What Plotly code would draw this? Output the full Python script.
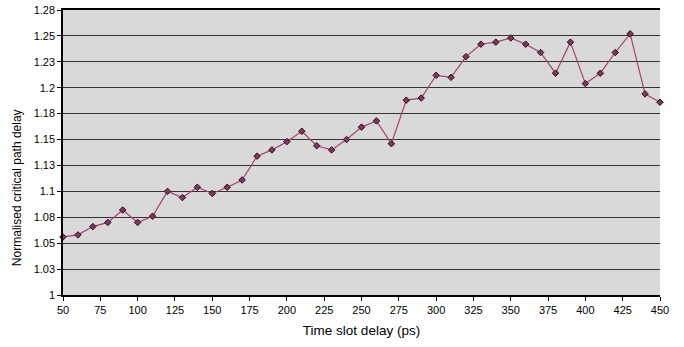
import plotly.graph_objects as go

# Time slot delay (ps) and normalised critical path delay
delay_ps = [50, 60, 70, 80, 90, 100, 110, 120, 130, 140, 150, 160, 170, 180, 190,
            200, 210, 220, 230, 240, 250, 260, 270, 280, 290, 300, 310, 320, 330,
            340, 350, 360, 370, 380, 390, 400, 410, 420, 430, 440, 450]
norm_delay = [1.056, 1.058, 1.066, 1.070, 1.082, 1.070, 1.076, 1.100, 1.094, 1.104,
              1.098, 1.104, 1.111, 1.134, 1.140, 1.148, 1.158, 1.144, 1.140, 1.150,
              1.162, 1.168, 1.146, 1.188, 1.190, 1.212, 1.210, 1.230, 1.242, 1.244,
              1.248, 1.242, 1.234, 1.214, 1.244, 1.204, 1.214, 1.234, 1.252, 1.194,
              1.186]

y_tickvals = [1.0, 1.025, 1.05, 1.075, 1.1, 1.125, 1.15, 1.175, 1.2, 1.225, 1.25, 1.275]
y_ticktext = ["1", "1.03", "1.05", "1.08", "1.1", "1.13", "1.15", "1.18", "1.2", "1.23", "1.25", "1.28"]
x_tickvals = [50, 75, 100, 125, 150, 175, 200, 225, 250, 275, 300, 325, 350, 375, 400, 425, 450]

fig = go.Figure()
fig.add_trace(go.Scatter(
    x=delay_ps, y=norm_delay, mode="lines+markers",
    line=dict(color="#A3446F", width=1.2),
    marker=dict(symbol="diamond", size=5, color="#8E2F5C",
                line=dict(color="#1a1a1a", width=1)),
    cliponaxis=False,
))

font = dict(family="Liberation Sans, Arial, sans-serif", color="#000000")

# y-axis title placed as a rotated annotation, sitting slightly below the axis middle
fig.add_annotation(
    text="Normalised critical path delay", textangle=-90,
    xref="paper", yref="paper", x=0, y=0.375,
    xanchor="center", yanchor="middle", xshift=-46,
    showarrow=False, font=dict(**font, size=12),
)

fig.update_layout(
    width=684, height=347,
    margin=dict(l=63, r=24, t=10, b=52),
    paper_bgcolor="white",
    plot_bgcolor="#D9D9D9",
    showlegend=False,
    font=dict(**font, size=11),
    xaxis=dict(
        range=[50, 450], tickvals=x_tickvals,
        showgrid=False, zeroline=False, automargin=False,
        showline=True, mirror=True, linecolor="#000000", linewidth=1.5,
        ticks="outside", ticklen=4, tickcolor="#000000",
        tickfont=dict(**font, size=11),
        title=dict(text="Time slot delay (ps)", font=dict(**font, size=13.5), standoff=11),
    ),
    yaxis=dict(
        range=[1.0, 1.275], tickvals=y_tickvals, ticktext=y_ticktext,
        showgrid=True, gridcolor="#333333", gridwidth=1.3, zeroline=False,
        automargin=False,
        showline=True, linecolor="#000000", linewidth=1.5,
        ticks="outside", ticklen=4, tickcolor="#000000",
        tickfont=dict(**font, size=11),
    ),
)

fig.write_html("out.html")
